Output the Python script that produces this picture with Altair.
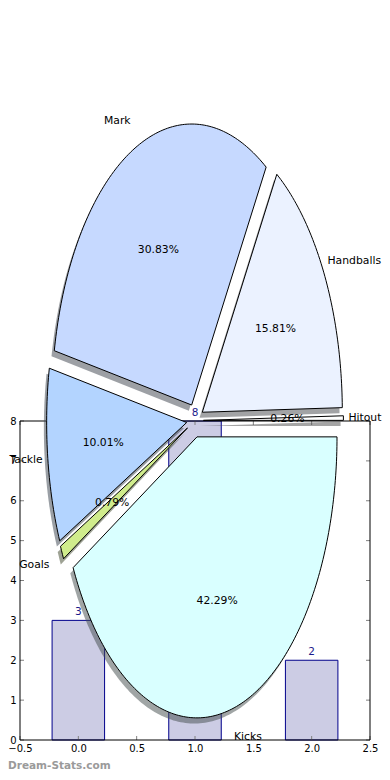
import numpy as np
import pandas as pd
import altair as alt

# ---------------- data ----------------
title_text = "DT score spread for Buku Khamis (2024)"
pie_labels = ["Hitout", "Handballs", "Mark", "Tackle", "Goals", "Kicks"]
pie_shares = [0.26, 15.81, 30.83, 10.01, 0.79, 42.29]
pie_colors = ["#FFFFFF", "#EBF2FF", "#C6D9FF", "#B3D4FF", "#D0EC8C", "#D9FFFF"]
bar_pos = [0, 1, 2]
bar_values = [3, 8, 2]
x_tick_values = [-0.5, 0.0, 0.5, 1.0, 1.5, 2.0, 2.5]
y_tick_values = [0, 1, 2, 3, 4, 5, 6, 7, 8]
watermark = "Dream-Stats.com"

# ---------------- style ----------------
FONT = "DejaVu Sans"
W, H = 350, 319
PAD_L, PAD_R, PAD_T, PAD_B = 12, 12, 413, 32
EXPLODE = 0.06
SHADOW_DX, SHADOW_DY = -0.02, -0.02
LABEL_DIST = 1.1
PCT_DIST = 0.6
BAR_WIDTH = 0.45
TICK_LEN = 4
PIE_RX_PX = W / 2.5         # horizontal pixel size of one pie unit
PIE_RY_PX = 281.0           # vertical pixel size of one pie unit
PIE_CY_PX = -0.5            # pie centre, relative to plot top
LABEL_FS = 10.8
EDGE_NUDGE = 9              # keeps labels at the page edges inside the page


def shade(hexcol, f=0.3):
    h = hexcol.lstrip("#")
    r, g, b = (int(h[i:i + 2], 16) for i in (0, 2, 4))
    return "#%02x%02x%02x" % (int(r * f), int(g * f), int(b * f))


# ---------------- pie geometry from the shares ----------------
fr = np.array(pie_shares, dtype=float)
fr = fr / fr.sum()
t2 = 360.0 * np.cumsum(fr)
t1 = t2 - 360.0 * fr

wedges = []
labels = []
for i, name in enumerate(pie_labels):
    mid = np.deg2rad((t1[i] + t2[i]) / 2.0)
    cx, cy = EXPLODE * np.cos(mid), EXPLODE * np.sin(mid)
    n = max(int(np.ceil(t2[i] - t1[i])), 1) + 1
    angs = np.deg2rad(np.linspace(t1[i], t2[i], n))
    pts = [(cx, cy)] + [(cx + np.cos(a), cy + np.sin(a)) for a in angs] + [(cx, cy)]
    for k, (px, py) in enumerate(pts):
        wedges.append({"name": name, "k": k, "x": px, "y": py,
                       "sx": px + SHADOW_DX, "sy": py + SHADOW_DY})
    lx = cx + LABEL_DIST * np.cos(mid)
    ly = cy + LABEL_DIST * np.sin(mid)
    side = "L" if lx > 0 else "R"
    # rough text extent check against the drawable page area
    x_px = W / 2 + lx * PIE_RX_PX
    est_w = len(name) * 0.58 * LABEL_FS
    if side == "L":
        edge = "far" if x_px + est_w > W + PAD_R else "near"
    else:
        edge = "far" if x_px - est_w < -PAD_L else "near"
    labels.append({"name": name, "lx": lx, "ly": ly, "side": side, "edge": edge,
                   "px": cx + PCT_DIST * np.cos(mid),
                   "py": cy + PCT_DIST * np.sin(mid),
                   "pct": "%.2f%%" % (100 * fr[i])})

wdf = pd.DataFrame(wedges)
ldf = pd.DataFrame(labels)
bdf = pd.DataFrame({"pos": bar_pos, "val": bar_values})
xt = pd.DataFrame({"v": x_tick_values})
yt = pd.DataFrame({"v": y_tick_values})

# ---------------- bar axes ----------------
bx_scale = alt.Scale(domain=[-0.5, 2.5], nice=False, zero=False)
by_scale = alt.Scale(domain=[0, 8], nice=False)
x_axis = alt.Axis(values=x_tick_values, format=".1f", title=None, grid=False,
                  domain=False, ticks=False, tickSize=0, labelPadding=3,
                  labelFont=FONT, labelFontSize=10, labelColor="black",
                  labelFlush=False, labelOverlap=False)
y_axis = alt.Axis(values=y_tick_values, format="d", title=None, grid=False,
                  domain=False, ticks=False, tickSize=0, labelPadding=4,
                  labelFont=FONT, labelFontSize=10, labelColor="black",
                  labelFlush=False, labelOverlap=False)

bars = alt.Chart(bdf).transform_calculate(
    x1=f"datum.pos - {BAR_WIDTH / 2}", x2=f"datum.pos + {BAR_WIDTH / 2}"
).mark_rect(fill="#CCCCE4", stroke="#00008B", strokeWidth=1).encode(
    x=alt.X("x1:Q", scale=bx_scale, axis=x_axis),
    x2="x2:Q",
    y=alt.Y("val:Q", scale=by_scale, axis=y_axis),
    y2=alt.datum(0),
)

bar_text = alt.Chart(bdf).mark_text(
    font=FONT, fontSize=10.5, color="#1a1a8c", baseline="bottom", dy=-3
).encode(
    x=alt.X("pos:Q", scale=bx_scale, axis=x_axis),
    y=alt.Y("val:Q", scale=by_scale, axis=y_axis),
    text="val:Q",
)

tick_style = dict(color="#808080", strokeWidth=1)
ticks_left = alt.Chart(yt).mark_rule(**tick_style).encode(
    y=alt.Y("v:Q", scale=by_scale, axis=y_axis), x=alt.value(0), x2=alt.value(TICK_LEN))
ticks_right = alt.Chart(yt).mark_rule(**tick_style).encode(
    y=alt.Y("v:Q", scale=by_scale, axis=y_axis), x=alt.value(W - TICK_LEN), x2=alt.value(W))
ticks_top = alt.Chart(xt).mark_rule(**tick_style).encode(
    x=alt.X("v:Q", scale=bx_scale, axis=x_axis), y=alt.value(0), y2=alt.value(TICK_LEN))
ticks_bottom = alt.Chart(xt).mark_rule(**tick_style).encode(
    x=alt.X("v:Q", scale=bx_scale, axis=x_axis), y=alt.value(H - TICK_LEN), y2=alt.value(H))

frame = alt.Chart(alt.Data(values=[{"a": 1}])).mark_rect(
    fillOpacity=0, stroke="black", strokeWidth=1
).encode(x=alt.value(0), x2=alt.value(W), y=alt.value(0), y2=alt.value(H))

bar_group = alt.layer(bars, ticks_left, ticks_right, ticks_top, ticks_bottom,
                      frame, bar_text)

# ---------------- pie ----------------
px_scale = alt.Scale(domain=[-1.25, 1.25], nice=False, zero=False)
py_scale = alt.Scale(domain=[-1.25, 1.25], nice=False, zero=False,
                     range=[PIE_CY_PX + 1.25 * PIE_RY_PX, PIE_CY_PX - 1.25 * PIE_RY_PX])

shadow_layers = []
wedge_layers = []
for name, col in zip(pie_labels, pie_colors):
    sub = wdf[wdf["name"] == name]
    shadow_layers.append(
        alt.Chart(sub).mark_line(fill=shade(col), fillOpacity=0.5, strokeOpacity=0,
                                 strokeWidth=0).encode(
            x=alt.X("sx:Q", scale=px_scale, axis=None),
            y=alt.Y("sy:Q", scale=py_scale, axis=None),
            order="k:Q")
    )
    wedge_layers.append(
        alt.Chart(sub).mark_line(fill=col, stroke="black", strokeWidth=1).encode(
            x=alt.X("x:Q", scale=px_scale, axis=None),
            y=alt.Y("y:Q", scale=py_scale, axis=None),
            order="k:Q")
    )


def name_layer(side, edge, align, dx):
    sub = ldf[(ldf["side"] == side) & (ldf["edge"] == edge)]
    return alt.Chart(sub).mark_text(
        font=FONT, fontSize=LABEL_FS, color="black", align=align, baseline="middle",
        dx=dx
    ).encode(x=alt.X("lx:Q", scale=px_scale, axis=None),
             y=alt.Y("ly:Q", scale=py_scale, axis=None), text="name:N")


name_layers = [
    name_layer("L", "near", "left", 0),
    name_layer("L", "far", "left", -EDGE_NUDGE),
    name_layer("R", "near", "right", 0),
    name_layer("R", "far", "right", EDGE_NUDGE),
]

pct_text = alt.Chart(ldf).mark_text(
    font=FONT, fontSize=LABEL_FS, color="black", align="center", baseline="middle"
).encode(x=alt.X("px:Q", scale=px_scale, axis=None),
         y=alt.Y("py:Q", scale=py_scale, axis=None), text="pct:N")

wm = alt.Chart(alt.Data(values=[{"t": watermark}])).mark_text(
    font=FONT, fontSize=10.5, fontWeight="bold", color="#9a9a9a",
    align="left", baseline="middle"
).encode(x=alt.value(-PAD_L), y=alt.value(H + 26), text="t:N")

pie_group = alt.layer(*shadow_layers, *wedge_layers, *name_layers, pct_text, wm)

chart = alt.layer(bar_group, pie_group).resolve_scale(
    x="independent", y="independent"
).properties(
    width=W, height=H,
    padding={"left": PAD_L, "top": PAD_T, "right": PAD_R, "bottom": PAD_B},
    autosize=alt.AutoSizeParams(type="none"),
    title=alt.TitleParams(title_text, font=FONT, fontSize=13, fontWeight="normal",
                          color="black", anchor="middle", offset=353),
).configure_view(strokeWidth=0)

chart.save("out.html", embed_options={"renderer": "svg", "actions": False})
